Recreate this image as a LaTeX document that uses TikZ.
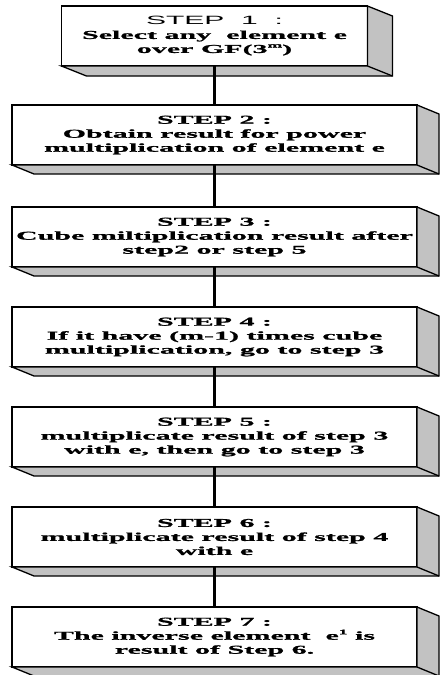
\documentclass[tikz,border=0pt]{standalone}
\usepackage{fontspec}
\newfontfamily\wserif[FakeStretch=2.5, BoldFeatures={FakeBold=1.2}]{Liberation Serif}
\newfontfamily\wsans[FakeStretch=2.5]{Liberation Sans}
\newcommand{\supx}[1]{\raisebox{0.45em}{\fontsize{7}{7}\selectfont #1}}
\begin{document}
\begin{tikzpicture}[x=1pt,y=-1pt]
\tikzset{
 stepbox/.style={draw=black, line width=1.8pt, fill=white, outer sep=0pt, inner sep=0pt,
   align=center, minimum height=60pt, minimum width=405pt,
   font=\wserif\bfseries\fontsize{12}{14}\selectfont},
 panel/.style={draw=black, line width=1.3pt, fill=black!24, line join=miter},
 conn/.style={draw=black, line width=2.2pt},
}
\useasboundingbox (0,0) rectangle (441,675);
\node[stepbox, minimum width=306pt] (s1) at (214.5,36) {{\wsans\mdseries STEP\ \ 1\ \ :}\\Select any\ \ element e\\over GF(3\supx{m})};
\node[stepbox] (s2) at (214.5,135) {STEP 2 :\\Obtain result for power\\multiplication of element e};
\node[stepbox] (s3) at (214.5,237) {STEP 3 :\\Cube miltiplication result after\\step2 or step 5};
\node[stepbox] (s4) at (214.5,337) {STEP 4 :\\If it have (m-1) times cube\\multiplication, go to step 3};
\node[stepbox] (s5) at (214.5,437) {STEP 5 :\\multiplicate result of step 3\\with e, then go to step 3};
\node[stepbox] (s6) at (214.5,537) {STEP 6 :\\multiplicate result of step 4\\with e};
\node[stepbox] (s7) at (214.5,637) {STEP 7 :\\The inverse element\ \ e\supx{1} is\\result of Step 6.};
\foreach \n/\dx/\dy in {s1/25/10,s2/22/9,s3/22/9,s4/22/9,s5/22/9,s6/22/9,s7/22/9}{
  \draw[panel] (\n.north east) -- ++(\dx,\dy) -- ([shift={(\dx,\dy)}]\n.south east)
     -- ([shift={(\dx,\dy)}]\n.south west) -- (\n.south west) -- (\n.south east) -- cycle;
  \draw[panel] (\n.south east) -- ++(\dx,\dy);
}
\foreach \a/\b in {s1/s2,s2/s3,s3/s4,s4/s5,s5/s6,s6/s7}{
  \draw[conn] (\a.south) -- (\b.north);
}
\end{tikzpicture}
\end{document}
